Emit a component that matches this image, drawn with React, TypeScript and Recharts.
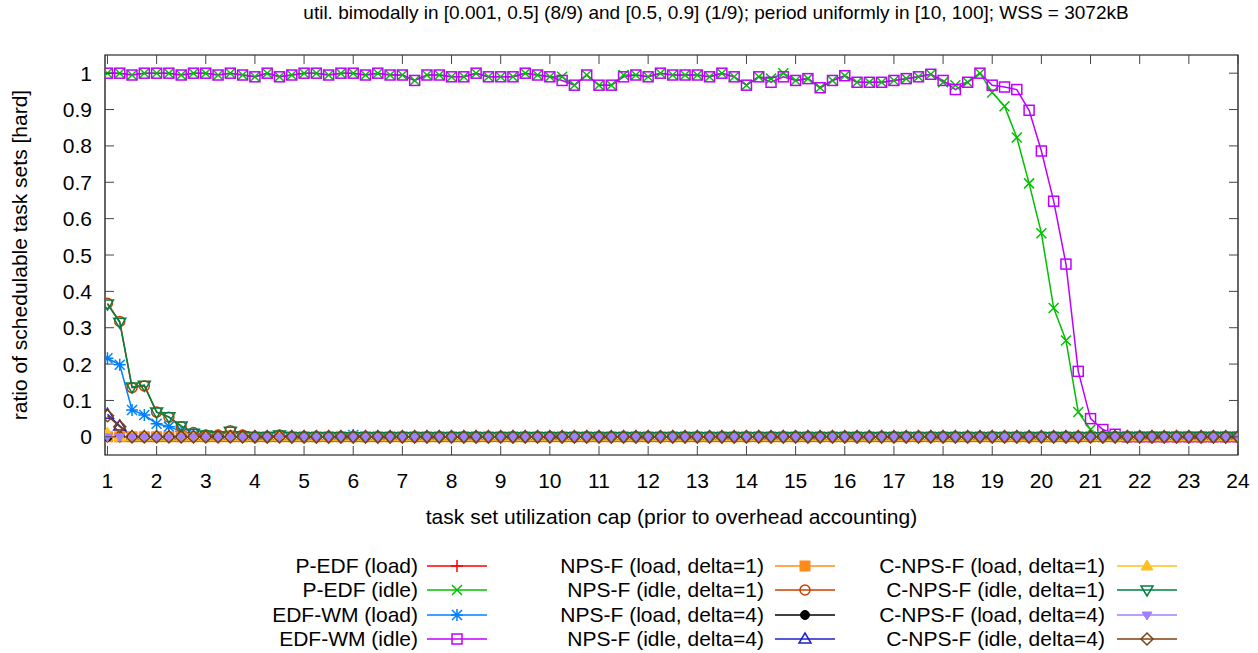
import React from "react";
import { LineChart, Line, XAxis, YAxis, ReferenceArea } from "recharts";

// x values: task set utilization cap, one sample every 0.25
const utilCaps = [
  1, 1.25, 1.5, 1.75, 2, 2.25, 2.5, 2.75, 3, 3.25, 3.5, 3.75,
  4, 4.25, 4.5, 4.75, 5, 5.25, 5.5, 5.75, 6, 6.25, 6.5, 6.75,
  7, 7.25, 7.5, 7.75, 8, 8.25, 8.5, 8.75, 9, 9.25, 9.5, 9.75,
  10, 10.25, 10.5, 10.75, 11, 11.25, 11.5, 11.75, 12, 12.25, 12.5, 12.75,
  13, 13.25, 13.5, 13.75, 14, 14.25, 14.5, 14.75, 15, 15.25, 15.5, 15.75,
  16, 16.25, 16.5, 16.75, 17, 17.25, 17.5, 17.75, 18, 18.25, 18.5, 18.75,
  19, 19.25, 19.5, 19.75, 20, 20.25, 20.5, 20.75, 21, 21.25, 21.5, 21.75,
  22, 22.25, 22.5, 22.75, 23, 23.25, 23.5, 23.75, 24,
];

const xTicks = [1, 2, 3, 4, 5, 6, 7, 8, 9, 10, 11, 12, 13, 14, 15, 16, 17, 18, 19, 20, 21, 22, 23, 24];
const yTicks = [0, 0.1, 0.2, 0.3, 0.4, 0.5, 0.6, 0.7, 0.8, 0.9, 1];
const xDomain = [0.95, 24];
const yDomain = [-0.05, 1.05];

// ratio of schedulable task sets, per scheduler
const pEdfLoad = [
  0, 0, 0, 0, 0, 0, 0, 0, 0, 0, 0, 0,
  0, 0, 0, 0, 0, 0, 0, 0, 0, 0, 0, 0,
  0, 0, 0, 0, 0, 0, 0, 0, 0, 0, 0, 0,
  0, 0, 0, 0, 0, 0, 0, 0, 0, 0, 0, 0,
  0, 0, 0, 0, 0, 0, 0, 0, 0, 0, 0, 0,
  0, 0, 0, 0, 0, 0, 0, 0, 0, 0, 0, 0,
  0, 0, 0, 0, 0, 0, 0, 0, 0, 0, 0, 0,
  0, 0, 0, 0, 0, 0, 0, 0, 0,
];

const pEdfIdle = [
  1, 1, 0.995, 1, 1, 1, 0.995, 1, 1, 0.995, 1, 0.995,
  0.99, 1, 0.99, 0.995, 1, 1, 0.995, 1, 1, 0.995, 1, 0.995,
  0.995, 0.98, 0.995, 0.995, 0.99, 0.99, 1, 0.99, 0.99, 0.99, 1, 0.995,
  0.99, 0.99, 0.967, 0.995, 0.967, 0.967, 0.995, 0.995, 0.99, 1, 0.995, 0.995,
  0.995, 0.99, 1, 0.99, 0.967, 0.99, 0.985, 1, 0.98, 0.985, 0.96, 0.98,
  0.993, 0.975, 0.975, 0.975, 0.98, 0.985, 0.99, 0.997, 0.975, 0.967, 0.975, 1,
  0.947, 0.909, 0.823, 0.697, 0.56, 0.354, 0.265, 0.068, 0.02, 0, 0, 0,
  0, 0, 0, 0, 0, 0, 0, 0, 0,
];

const edfWmLoad = [
  0.216, 0.198, 0.074, 0.06, 0.036, 0.028, 0.015, 0.008, 0.003, 0, 0, 0,
  0, 0, 0, 0, 0, 0, 0, 0, 0.005, 0, 0, 0,
  0, 0, 0, 0, 0, 0, 0, 0, 0, 0, 0, 0,
  0, 0, 0, 0, 0, 0, 0, 0, 0, 0, 0, 0,
  0, 0, 0, 0, 0, 0, 0, 0, 0, 0, 0, 0,
  0, 0, 0, 0, 0, 0, 0, 0, 0, 0, 0, 0,
  0, 0, 0, 0, 0, 0, 0, 0, 0, 0, 0, 0,
  0, 0, 0, 0, 0, 0, 0, 0, 0,
];

const edfWmIdle = [
  1, 1, 0.995, 1, 1, 1, 0.995, 1, 1, 0.995, 1, 0.995,
  0.99, 1, 0.99, 0.995, 1, 1, 0.995, 1, 1, 0.995, 1, 0.995,
  0.995, 0.98, 0.995, 0.995, 0.99, 0.99, 1, 0.99, 0.99, 0.99, 1, 0.995,
  0.99, 0.98, 0.967, 0.995, 0.967, 0.967, 0.99, 0.995, 0.99, 1, 0.995, 0.995,
  0.995, 0.99, 1, 0.99, 0.967, 0.99, 0.975, 0.99, 0.98, 0.985, 0.96, 0.98,
  0.993, 0.975, 0.975, 0.975, 0.98, 0.985, 0.99, 0.997, 0.98, 0.955, 0.975, 1,
  0.967, 0.962, 0.955, 0.898, 0.786, 0.648, 0.475, 0.18, 0.05, 0.02, 0.007, 0,
  0, 0, 0, 0, 0, 0, 0, 0, 0,
];

const npsfLoadD1 = [
  0, 0, 0, 0, 0, 0, 0, 0, 0, 0, 0, 0,
  0, 0, 0, 0, 0, 0, 0, 0, 0, 0, 0, 0,
  0, 0, 0, 0, 0, 0, 0, 0, 0, 0, 0, 0,
  0, 0, 0, 0, 0, 0, 0, 0, 0, 0, 0, 0,
  0, 0, 0, 0, 0, 0, 0, 0, 0, 0, 0, 0,
  0, 0, 0, 0, 0, 0, 0, 0, 0, 0, 0, 0,
  0, 0, 0, 0, 0, 0, 0, 0, 0, 0, 0, 0,
  0, 0, 0, 0, 0, 0, 0, 0, 0,
];

const npsfIdleD1 = [
  0.367, 0.317, 0.135, 0.14, 0.068, 0.054, 0.028, 0.012, 0.005, 0.005, 0.017, 0.005,
  0, 0, 0.005, 0, 0, 0, 0, 0, 0, 0, 0, 0,
  0, 0, 0, 0, 0, 0, 0, 0, 0, 0, 0, 0,
  0, 0, 0, 0, 0, 0, 0, 0, 0, 0, 0, 0,
  0, 0, 0, 0, 0, 0, 0, 0, 0, 0, 0, 0,
  0, 0, 0, 0, 0, 0, 0, 0, 0, 0, 0, 0,
  0, 0, 0, 0, 0, 0, 0, 0, 0, 0, 0, 0,
  0, 0, 0, 0, 0, 0, 0, 0, 0,
];

const npsfLoadD4 = [
  0, 0, 0, 0, 0, 0, 0, 0, 0, 0, 0, 0,
  0, 0, 0, 0, 0, 0, 0, 0, 0, 0, 0, 0,
  0, 0, 0, 0, 0, 0, 0, 0, 0, 0, 0, 0,
  0, 0, 0, 0, 0, 0, 0, 0, 0, 0, 0, 0,
  0, 0, 0, 0, 0, 0, 0, 0, 0, 0, 0, 0,
  0, 0, 0, 0, 0, 0, 0, 0, 0, 0, 0, 0,
  0, 0, 0, 0, 0, 0, 0, 0, 0, 0, 0, 0,
  0, 0, 0, 0, 0, 0, 0, 0, 0,
];

const npsfIdleD4 = [
  0.062, 0.03, 0, 0, 0, 0, 0, 0, 0, 0, 0, 0,
  0, 0, 0, 0, 0, 0, 0, 0, 0, 0, 0, 0,
  0, 0, 0, 0, 0, 0, 0, 0, 0, 0, 0, 0,
  0, 0, 0, 0, 0, 0, 0, 0, 0, 0, 0, 0,
  0, 0, 0, 0, 0, 0, 0, 0, 0, 0, 0, 0,
  0, 0, 0, 0, 0, 0, 0, 0, 0, 0, 0, 0,
  0, 0, 0, 0, 0, 0, 0, 0, 0, 0, 0, 0,
  0, 0, 0, 0, 0, 0, 0, 0, 0,
];

const cnpsfLoadD1 = [
  0.01, 0, 0, 0, 0, 0, 0, 0, 0, 0, 0, 0,
  0, 0, 0, 0, 0, 0, 0, 0, 0, 0, 0, 0,
  0, 0, 0, 0, 0, 0, 0, 0, 0, 0, 0, 0,
  0, 0, 0, 0, 0, 0, 0, 0, 0, 0, 0, 0,
  0, 0, 0, 0, 0, 0, 0, 0, 0, 0, 0, 0,
  0, 0, 0, 0, 0, 0, 0, 0, 0, 0, 0, 0,
  0, 0, 0, 0, 0, 0, 0, 0, 0, 0, 0, 0,
  0, 0, 0, 0, 0, 0, 0, 0, 0,
];

const cnpsfIdleD1 = [
  0.365, 0.315, 0.137, 0.142, 0.068, 0.055, 0.03, 0.01, 0.005, 0.003, 0.015, 0.003,
  0, 0, 0.005, 0, 0, 0, 0, 0, 0, 0, 0, 0,
  0, 0, 0, 0, 0, 0, 0, 0, 0, 0, 0, 0,
  0, 0, 0, 0, 0, 0, 0, 0, 0, 0, 0, 0,
  0, 0, 0, 0, 0, 0, 0, 0, 0, 0, 0, 0,
  0, 0, 0, 0, 0, 0, 0, 0, 0, 0, 0, 0,
  0, 0, 0, 0, 0, 0, 0, 0, 0, 0, 0, 0,
  0, 0, 0, 0, 0, 0, 0, 0, 0,
];

const cnpsfLoadD4 = [
  0, 0, 0, 0, 0, 0, 0, 0, 0, 0, 0, 0,
  0, 0, 0, 0, 0, 0, 0, 0, 0, 0, 0, 0,
  0, 0, 0, 0, 0, 0, 0, 0, 0, 0, 0, 0,
  0, 0, 0, 0, 0, 0, 0, 0, 0, 0, 0, 0,
  0, 0, 0, 0, 0, 0, 0, 0, 0, 0, 0, 0,
  0, 0, 0, 0, 0, 0, 0, 0, 0, 0, 0, 0,
  0, 0, 0, 0, 0, 0, 0, 0, 0, 0, 0, 0,
  0, 0, 0, 0, 0, 0, 0, 0, 0,
];

const cnpsfIdleD4 = [
  0.058, 0.028, 0, 0, 0, 0, 0, 0, 0, 0, 0, 0,
  0, 0, 0, 0, 0, 0, 0, 0, 0, 0, 0, 0,
  0, 0, 0, 0, 0, 0, 0, 0, 0, 0, 0, 0,
  0, 0, 0, 0, 0, 0, 0, 0, 0, 0, 0, 0,
  0, 0, 0, 0, 0, 0, 0, 0, 0, 0, 0, 0,
  0, 0, 0, 0, 0, 0, 0, 0, 0, 0, 0, 0,
  0, 0, 0, 0, 0, 0, 0, 0, 0, 0, 0, 0,
  0, 0, 0, 0, 0, 0, 0, 0, 0,
];

type MarkerKind =
  | "plus" | "cross" | "star" | "square" | "squareFilled" | "circle"
  | "circleFilled" | "triangle" | "triangleFilled" | "triangleDown"
  | "triangleDownFilled" | "diamond";

interface Series {
  key: string;
  name: string;
  color: string;
  marker: MarkerKind;
  values: number[];
}

const series: Series[] = [
  { key: "pEdfLoad", name: "P-EDF (load)", color: "#ff0000", marker: "plus", values: pEdfLoad },
  { key: "pEdfIdle", name: "P-EDF (idle)", color: "#00c000", marker: "cross", values: pEdfIdle },
  { key: "edfWmLoad", name: "EDF-WM (load)", color: "#0080ff", marker: "star", values: edfWmLoad },
  { key: "edfWmIdle", name: "EDF-WM (idle)", color: "#c000ff", marker: "square", values: edfWmIdle },
  { key: "npsfLoadD1", name: "NPS-F (load, delta=1)", color: "#ff8c1a", marker: "squareFilled", values: npsfLoadD1 },
  { key: "npsfIdleD1", name: "NPS-F (idle, delta=1)", color: "#c84000", marker: "circle", values: npsfIdleD1 },
  { key: "npsfLoadD4", name: "NPS-F (load, delta=4)", color: "#000000", marker: "circleFilled", values: npsfLoadD4 },
  { key: "npsfIdleD4", name: "NPS-F (idle, delta=4)", color: "#2020c8", marker: "triangle", values: npsfIdleD4 },
  { key: "cnpsfLoadD1", name: "C-NPS-F (load, delta=1)", color: "#ffc020", marker: "triangleFilled", values: cnpsfLoadD1 },
  { key: "cnpsfIdleD1", name: "C-NPS-F (idle, delta=1)", color: "#008040", marker: "triangleDown", values: cnpsfIdleD1 },
  { key: "cnpsfLoadD4", name: "C-NPS-F (load, delta=4)", color: "#a080ff", marker: "triangleDownFilled", values: cnpsfLoadD4 },
  { key: "cnpsfIdleD4", name: "C-NPS-F (idle, delta=4)", color: "#804010", marker: "diamond", values: cnpsfIdleD4 },
];

const chartData = utilCaps.map((x, i) => {
  const row: Record<string, number> = { x };
  series.forEach((s) => {
    row[s.key] = s.values[i];
  });
  return row;
});

// layout (gnuplot-like frame)
const WIDTH = 1258;
const HEIGHT = 653;
const PLOT_LEFT = 105;
const PLOT_RIGHT = 1238;
const PLOT_TOP = 55;
const PLOT_BOTTOM = 455;
const TICK_LEN = 9;
const FONT = '"Liberation Sans", Arial, Helvetica, sans-serif';
const FONT_SIZE = 21;

function Marker({ kind, cx, cy, color }: { kind: MarkerKind; cx: number; cy: number; color: string }) {
  const sw = 1.5;
  switch (kind) {
    case "plus":
      return <path d={`M${cx - 6},${cy}H${cx + 6}M${cx},${cy - 6}V${cy + 6}`} stroke={color} strokeWidth={sw} fill="none" />;
    case "cross":
      return <path d={`M${cx - 5},${cy - 5}L${cx + 5},${cy + 5}M${cx - 5},${cy + 5}L${cx + 5},${cy - 5}`} stroke={color} strokeWidth={sw} fill="none" />;
    case "star":
      return (
        <path
          d={`M${cx - 6},${cy}H${cx + 6}M${cx},${cy - 6}V${cy + 6}M${cx - 5},${cy - 5}L${cx + 5},${cy + 5}M${cx - 5},${cy + 5}L${cx + 5},${cy - 5}`}
          stroke={color}
          strokeWidth={sw}
          fill="none"
        />
      );
    case "square":
      return <rect x={cx - 5} y={cy - 5} width={10} height={10} stroke={color} strokeWidth={sw} fill="none" />;
    case "squareFilled":
      return <rect x={cx - 5} y={cy - 5} width={10} height={10} stroke={color} strokeWidth={1} fill={color} />;
    case "circle":
      return <circle cx={cx} cy={cy} r={5} stroke={color} strokeWidth={sw} fill="none" />;
    case "circleFilled":
      return <circle cx={cx} cy={cy} r={4.5} stroke={color} strokeWidth={1} fill={color} />;
    case "triangle":
      return <polygon points={`${cx},${cy - 6} ${cx + 6},${cy + 4} ${cx - 6},${cy + 4}`} stroke={color} strokeWidth={sw} fill="none" />;
    case "triangleFilled":
      return <polygon points={`${cx},${cy - 6} ${cx + 6},${cy + 4} ${cx - 6},${cy + 4}`} stroke={color} strokeWidth={1} fill={color} />;
    case "triangleDown":
      return <polygon points={`${cx},${cy + 6} ${cx + 6},${cy - 4} ${cx - 6},${cy - 4}`} stroke={color} strokeWidth={sw} fill="none" />;
    case "triangleDownFilled":
      return <polygon points={`${cx},${cy + 5} ${cx + 5},${cy - 3} ${cx - 5},${cy - 3}`} stroke={color} strokeWidth={1} fill={color} />;
    case "diamond":
      return <polygon points={`${cx},${cy - 6} ${cx + 6},${cy} ${cx},${cy + 6} ${cx - 6},${cy}`} stroke={color} strokeWidth={sw} fill="none" />;
  }
  return null;
}

// ticks point inward on both sides of the frame, like gnuplot's mirrored tics
function XTick(props: any) {
  const { x, payload } = props;
  return (
    <g>
      <line x1={x} x2={x} y1={PLOT_BOTTOM} y2={PLOT_BOTTOM - TICK_LEN} stroke="#444" />
      <line x1={x} x2={x} y1={PLOT_TOP} y2={PLOT_TOP + TICK_LEN} stroke="#444" />
      <text x={x} y={PLOT_BOTTOM + 18} dy="0.71em" textAnchor="middle" fontFamily={FONT} fontSize={FONT_SIZE} fill="#000">
        {payload.value}
      </text>
    </g>
  );
}

function YTick(props: any) {
  const { y, payload } = props;
  return (
    <g>
      <line x1={PLOT_LEFT} x2={PLOT_LEFT + TICK_LEN} y1={y} y2={y} stroke="#444" />
      <line x1={PLOT_RIGHT} x2={PLOT_RIGHT - TICK_LEN} y1={y} y2={y} stroke="#444" />
      <text x={92} y={y} dy="0.36em" textAnchor="end" fontFamily={FONT} fontSize={FONT_SIZE} fill="#000">
        {String(payload.value)}
      </text>
    </g>
  );
}

function LegendSample({ s }: { s: Series }) {
  return (
    <svg width={60} height={20} style={{ display: "block" }}>
      <line x1={0} x2={60} y1={10} y2={10} stroke={s.color} strokeWidth={1.5} />
      <Marker kind={s.marker} cx={30} cy={10} color={s.color} />
    </svg>
  );
}

const legendColumns = [
  { textRight: 418, sampleLeft: 427 },
  { textRight: 764, sampleLeft: 775 },
  { textRight: 1105, sampleLeft: 1117 },
];
const legendRowsY = [566, 590, 615, 639];

export default function App() {
  return (
    <div
      style={{
        position: "absolute",
        left: 0,
        top: 0,
        width: WIDTH,
        height: HEIGHT,
        background: "#fff",
        fontFamily: FONT,
        color: "#000",
        overflow: "hidden",
      }}
    >
      <LineChart
        width={WIDTH}
        height={HEIGHT}
        data={chartData}
        margin={{ top: PLOT_TOP, right: WIDTH - PLOT_RIGHT, left: 0, bottom: HEIGHT - PLOT_BOTTOM - 30 }}
      >
        <XAxis
          dataKey="x"
          type="number"
          domain={xDomain}
          ticks={xTicks}
          allowDataOverflow
          height={30}
          axisLine={false}
          tickLine={false}
          tick={<XTick />}
          interval={0}
        />
        <YAxis
          type="number"
          domain={yDomain}
          ticks={yTicks}
          allowDataOverflow
          width={PLOT_LEFT}
          axisLine={false}
          tickLine={false}
          tick={<YTick />}
          interval={0}
        />
        <ReferenceArea
          x1={xDomain[0]}
          x2={xDomain[1]}
          y1={yDomain[0]}
          y2={yDomain[1]}
          fill="none"
          fillOpacity={0}
          stroke="#000"
          strokeWidth={1.2}
        />
        {series.map((s) => (
          <Line
            key={s.key}
            dataKey={s.key}
            name={s.name}
            type="linear"
            stroke={s.color}
            strokeWidth={1.5}
            isAnimationActive={false}
            activeDot={false}
            dot={(p: any) => (
              <g key={`${s.key}-${p.index}`}>
                <Marker kind={s.marker} cx={p.cx} cy={p.cy} color={s.color} />
              </g>
            )}
          />
        ))}
      </LineChart>

      {/* Title */}
      <div
        style={{
          position: "absolute",
          left: 0,
          width: 1432,
          top: 1,
          textAlign: "center",
          fontSize: 19,
          lineHeight: "24px",
          whiteSpace: "nowrap",
        }}
      >
        util. bimodally in [0.001, 0.5] (8/9) and [0.5, 0.9] (1/9); period uniformly in [10, 100]; WSS = 3072kB
      </div>

      {/* Y axis label */}
      <div
        style={{
          position: "absolute",
          left: 20,
          top: (PLOT_TOP + PLOT_BOTTOM) / 2,
          transform: "translate(-50%, -50%) rotate(-90deg)",
          fontSize: FONT_SIZE,
          whiteSpace: "nowrap",
        }}
      >
        ratio of schedulable task sets [hard]
      </div>

      {/* X axis label */}
      <div
        style={{
          position: "absolute",
          left: PLOT_LEFT,
          width: PLOT_RIGHT - PLOT_LEFT,
          top: 504,
          textAlign: "center",
          fontSize: FONT_SIZE,
          lineHeight: "26px",
          whiteSpace: "nowrap",
        }}
      >
        task set utilization cap (prior to overhead accounting)
      </div>

      {/* Legend: three columns of four */}
      {series.map((s, i) => {
        const col = legendColumns[Math.floor(i / 4)];
        const y = legendRowsY[i % 4];
        return (
          <React.Fragment key={s.key}>
            <div
              style={{
                position: "absolute",
                left: 0,
                width: col.textRight,
                top: y - 13,
                textAlign: "right",
                fontSize: FONT_SIZE,
                lineHeight: "26px",
                whiteSpace: "nowrap",
              }}
            >
              {s.name}
            </div>
            <div style={{ position: "absolute", left: col.sampleLeft, top: y - 10 }}>
              <LegendSample s={s} />
            </div>
          </React.Fragment>
        );
      })}
    </div>
  );
}
